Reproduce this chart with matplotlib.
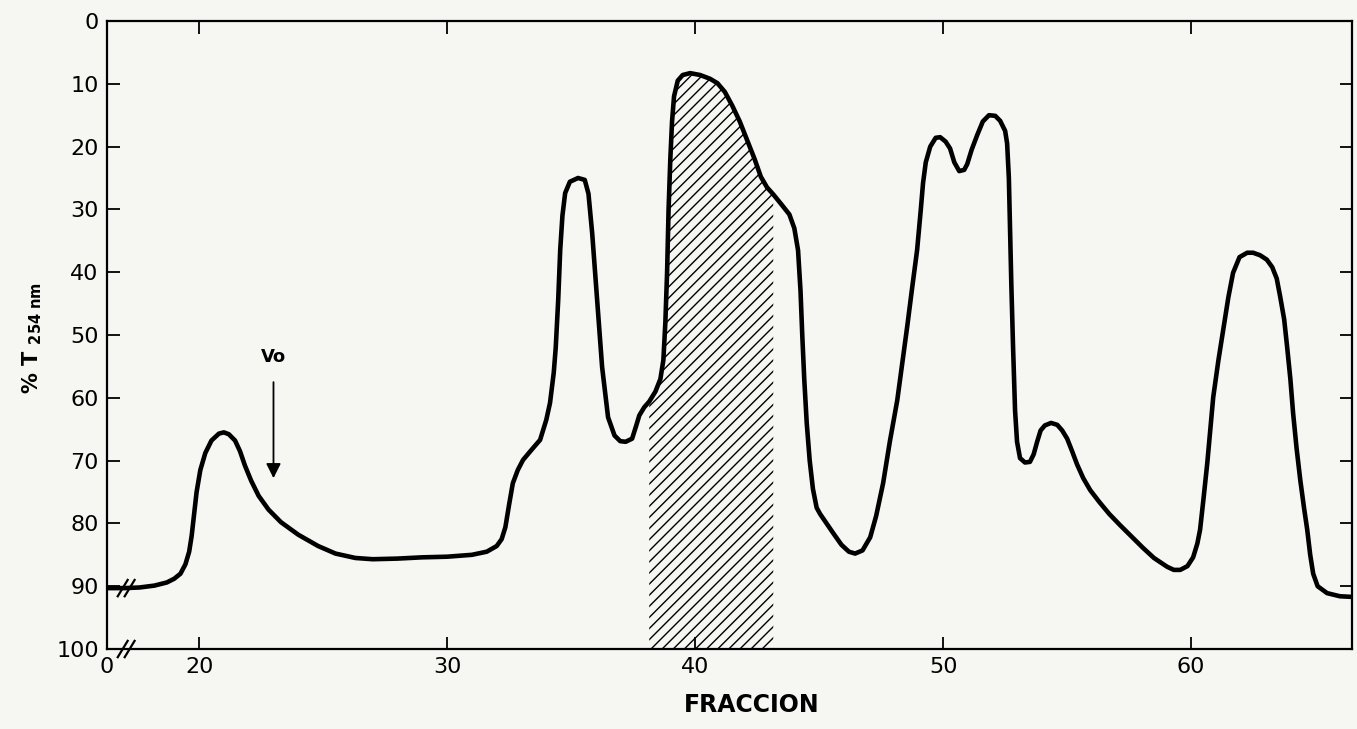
import numpy as np
import matplotlib
matplotlib.use("Agg")
import matplotlib.pyplot as plt

fraccion = [
    16.29, 17.0, 17.6, 18.2, 18.7, 19.0, 19.25, 19.45, 19.6, 19.7, 19.8, 19.9,
    20.05, 20.25, 20.5, 20.8, 21.0, 21.2, 21.45, 21.65, 21.85, 22.1, 22.4, 22.8,
    23.3, 24.0, 24.8, 25.5, 26.3, 27.0, 28.0, 29.0, 30.0, 31.0, 31.6, 32.0,
    32.2, 32.35, 32.5, 32.65, 32.85, 33.06, 33.4, 33.75, 34.0, 34.15, 34.3, 34.38,
    34.48, 34.56, 34.65, 34.76, 34.95, 35.28, 35.55, 35.7, 35.85, 36.05, 36.25, 36.49,
    36.75, 36.98, 37.2, 37.46, 37.62, 37.75, 37.95, 38.15, 38.4, 38.6, 38.72, 38.8,
    38.87, 38.93, 39.0, 39.07, 39.15, 39.3, 39.5, 39.8, 40.2, 40.6, 40.9, 41.2,
    41.5, 41.8, 42.1, 42.4, 42.65, 42.9, 43.15, 43.5, 43.8, 44.0, 44.15, 44.25,
    44.32, 44.4, 44.5, 44.62, 44.75, 44.9, 45.04, 45.3, 45.56, 45.9, 46.2, 46.45,
    46.75, 47.06, 47.3, 47.58, 47.85, 48.15, 48.35, 48.55, 48.75, 48.95, 49.1, 49.19,
    49.3, 49.48, 49.7, 49.88, 50.1, 50.28, 50.45, 50.65, 50.85, 50.97, 51.15, 51.37,
    51.6, 51.85, 52.1, 52.3, 52.5, 52.58, 52.65, 52.7, 52.75, 52.82, 52.9, 52.98,
    53.1, 53.3, 53.5, 53.65, 53.79, 53.93, 54.1, 54.35, 54.6, 54.8, 55.0, 55.2,
    55.4, 55.65, 55.93, 56.3, 56.7, 57.14, 57.6, 58.06, 58.5, 59.03, 59.3, 59.56,
    59.85, 60.08, 60.25, 60.36, 60.5, 60.65, 60.89, 61.1, 61.29, 61.5, 61.69, 61.95,
    62.26, 62.5, 62.78, 63.05, 63.27, 63.45, 63.59, 63.75, 63.87, 64.0, 64.11, 64.25,
    64.4, 64.55, 64.68, 64.8, 64.92, 65.1, 65.48, 66.0, 66.49,
]
transmitancia = [
    90.3, 90.3, 90.2, 89.9, 89.4, 88.8, 88.0, 86.5, 84.5, 82.0, 78.5, 75.0,
    71.5, 68.8, 66.8, 65.7, 65.5, 65.8, 66.8, 68.5, 70.8, 73.2, 75.6, 77.8,
    79.8, 81.8, 83.6, 84.8, 85.5, 85.7, 85.6, 85.4, 85.3, 85.0, 84.5, 83.6,
    82.5, 80.6, 77.0, 73.6, 71.5, 69.9, 68.3, 66.7, 63.5, 60.8, 56.0, 52.0,
    44.4, 36.5, 31.0, 27.4, 25.6, 25.0, 25.3, 27.5, 33.8, 44.4, 55.1, 63.1,
    66.0, 66.9, 67.0, 66.5, 64.5, 62.8, 61.5, 60.6, 59.0, 57.0, 54.0, 48.0,
    40.0, 30.0, 22.0, 16.0, 12.0, 9.5, 8.6, 8.3, 8.6, 9.2, 9.9, 11.3,
    13.5, 16.0, 19.0, 22.0, 24.8, 26.5, 27.6, 29.3, 30.8, 33.0, 36.5, 43.0,
    50.0, 57.0, 64.0, 70.0, 74.5, 77.5, 78.5, 80.0, 81.5, 83.4, 84.5, 84.8,
    84.3, 82.2, 78.8, 73.6, 67.0, 60.4, 54.5, 48.7, 42.5, 36.5, 30.0, 25.8,
    22.5, 20.0, 18.6, 18.5, 19.2, 20.3, 22.5, 23.9, 23.7, 22.8, 20.5, 18.2,
    16.0, 15.0, 15.1, 15.9, 17.5, 19.5, 25.0, 33.8, 42.0, 52.0, 62.0, 67.0,
    69.6, 70.3, 70.2, 69.0, 67.0, 65.2, 64.4, 64.0, 64.3, 65.2, 66.5, 68.5,
    70.6, 72.8, 74.7, 76.6, 78.5, 80.3, 82.1, 83.9, 85.5, 86.9, 87.4, 87.4,
    86.8, 85.4, 83.2, 81.0, 76.0, 70.4, 59.9, 54.0, 49.2, 44.0, 40.1, 37.6,
    36.9, 36.9, 37.3, 38.0, 39.2, 41.0, 43.9, 47.5, 51.9, 57.0, 62.4, 68.0,
    73.1, 77.5, 81.0, 85.0, 88.0, 90.0, 91.1, 91.6, 91.7,
]

# zona rayada (fracciones recogidas)
zona_ini, zona_fin = 38.15, 43.15

xticks = [16.29, 20, 30, 40, 50, 60]
xticklabels = ['0', '20', '30', '40', '50', '60']
yticks = list(range(0, 101, 10))

vo_x = 23.0
corte_x = 17.06  # marcas // del eje cortado

fondo = '#f6f6f3'
plt.rcParams['hatch.linewidth'] = 1.0

fig = plt.figure(figsize=(13.57, 7.29), dpi=100, facecolor=fondo)
ax = fig.add_axes([0.0789, 0.1097, 0.9175, 0.8615])
ax.set_facecolor(fondo)

x = np.array(fraccion)
y = np.array(transmitancia)

sel = (x >= zona_ini) & (x <= zona_fin)
ax.fill_between(x, y, 100, where=sel, facecolor='none', edgecolor='k',
                hatch='///', linewidth=0, zorder=1)
ax.plot(x, y, color='k', lw=3.3, solid_joinstyle='round',
        solid_capstyle='round', zorder=3)

ax.set_xlim(16.29, 66.49)
ax.set_ylim(100, 0)
ax.set_xticks(xticks)
ax.set_xticklabels(xticklabels)
ax.set_yticks(yticks)
ax.tick_params(axis='both', direction='in', length=9, width=1.3,
               top=True, right=True, labelsize=16, pad=6)
for s in ax.spines.values():
    s.set_linewidth(1.6)

# marcas de corte //
for dx in (-0.14, 0.14):
    for y0 in (100, transmitancia[0]):
        ax.plot([corte_x + dx - 0.2, corte_x + dx + 0.2], [y0 + 1.3, y0 - 1.3],
                color='k', lw=1.6, clip_on=False, zorder=4)

# Vo
ax.annotate('', xy=(vo_x, 72.8), xytext=(vo_x, 57.5),
            arrowprops=dict(arrowstyle='-|>', color='k', lw=1.3,
                            mutation_scale=22, shrinkA=0, shrinkB=0))
ax.text(vo_x, 55.0, 'Vo', ha='center', va='bottom', fontsize=13,
        fontweight='bold')

fig.text(0.024, 0.536, r'% T $_{\mathbf{254\ nm}}$', rotation=90,
         ha='center', va='center', fontsize=15, fontweight='bold')
fig.text(0.554, 0.033, 'FRACCION', ha='center', va='center', fontsize=17,
         fontweight='bold')

fig.savefig('out.png', dpi=100, facecolor=fondo)
